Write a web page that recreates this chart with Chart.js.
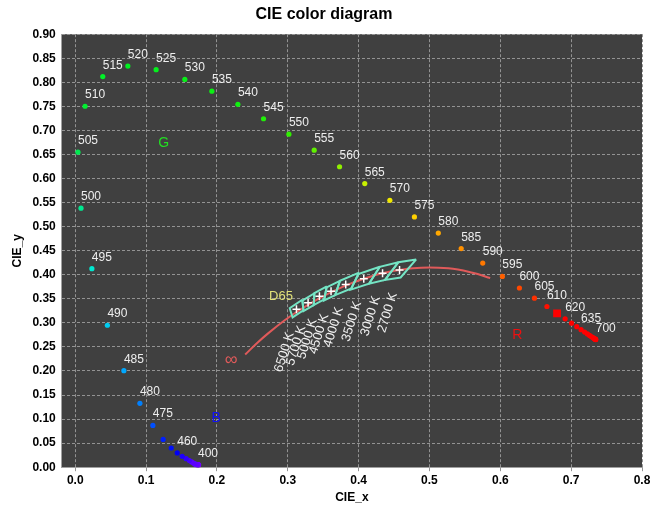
<!DOCTYPE html>
<html>
<head>
<meta charset="utf-8">
<script src="https://cdn.jsdelivr.net/npm/chart.js@4/dist/chart.umd.min.js"></script>
<style>
  html, body { margin: 0; padding: 0; background: #ffffff; }
  canvas { display: block; }
</style>
</head>
<body>
<canvas id="c" width="650" height="505"></canvas>
<script>
// ---------- DATA ----------
const wavelengths = [380,385,390,395,400,405,410,415,420,425,430,435,440,445,450,455,460,465,470,475,480,485,490,495,500,505,510,515,520,525,530,535,540,545,550,555,560,565,570,575,580,585,590,595,600,605,610,615,620,625,630,635,640,645,650,655,660,665,670,675,680,685,690,695,700];
const locusX = [0.1741,0.1740,0.1738,0.1736,0.1733,0.1730,0.1726,0.1721,0.1714,0.1703,0.1689,0.1669,0.1644,0.1611,0.1566,0.1510,0.1440,0.1355,0.1241,0.1096,0.0913,0.0687,0.0454,0.0235,0.0082,0.0039,0.0139,0.0389,0.0743,0.1142,0.1547,0.1929,0.2296,0.2658,0.3016,0.3373,0.3731,0.4087,0.4441,0.4788,0.5125,0.5448,0.5752,0.6029,0.6270,0.6482,0.6658,0.6801,0.6915,0.7006,0.7079,0.7140,0.7190,0.7230,0.7260,0.7283,0.7300,0.7311,0.7320,0.7327,0.7334,0.7340,0.7344,0.7346,0.7347];
const locusY = [0.0050,0.0050,0.0049,0.0049,0.0048,0.0048,0.0048,0.0048,0.0051,0.0058,0.0069,0.0086,0.0109,0.0138,0.0177,0.0227,0.0297,0.0399,0.0578,0.0868,0.1327,0.2007,0.2950,0.4127,0.5384,0.6548,0.7502,0.8120,0.8338,0.8262,0.8059,0.7816,0.7543,0.7243,0.6923,0.6589,0.6245,0.5896,0.5547,0.5202,0.4866,0.4544,0.4242,0.3965,0.3725,0.3514,0.3340,0.3197,0.3083,0.2993,0.2920,0.2859,0.2809,0.2770,0.2740,0.2717,0.2700,0.2689,0.2680,0.2673,0.2666,0.2660,0.2656,0.2654,0.2653];
const labeledWl = [400,460,475,480,485,490,495,500,505,510,515,520,525,530,535,540,545,550,555,560,565,570,575,580,585,590,595,600,605,610,620,635,700];
const highlightWl = 615;

// Planckian locus (from infinity down to ~1500 K)
const planckX = [0.2399,0.2564,0.2718,0.2952,0.3135,0.3451,0.3805,0.4053,0.4369,0.4770,0.5267,0.5609,0.5857];
const planckY = [0.2341,0.2576,0.2776,0.3048,0.3236,0.3516,0.3768,0.3907,0.4041,0.4137,0.4133,0.4043,0.3931];

// ANSI C78.377 quadrangles
const cctLabels = ['6500 K','5700 K','5000 K','4500 K','4000 K','3500 K','3000 K','2700 K'];
const cctCenterX = [0.3123,0.3287,0.3447,0.3611,0.3818,0.4073,0.4338,0.4578];
const cctCenterY = [0.3282,0.3417,0.3553,0.3658,0.3797,0.3917,0.4030,0.4101];
const quadX = [
  [0.3205,0.3028,0.3068,0.3221],
  [0.3376,0.3207,0.3222,0.3366],
  [0.3551,0.3376,0.3366,0.3515],
  [0.3736,0.3548,0.3512,0.3670],
  [0.4006,0.3736,0.3670,0.3898],
  [0.4299,0.3996,0.3889,0.4147],
  [0.4562,0.4299,0.4147,0.4373],
  [0.4813,0.4562,0.4373,0.4593]
];
const quadY = [
  [0.3481,0.3304,0.3113,0.3261],
  [0.3616,0.3462,0.3243,0.3369],
  [0.3760,0.3616,0.3369,0.3487],
  [0.3874,0.3736,0.3465,0.3578],
  [0.4044,0.3874,0.3578,0.3716],
  [0.4165,0.4015,0.3690,0.3814],
  [0.4260,0.4165,0.3814,0.3893],
  [0.4319,0.4260,0.3893,0.3944]
];

// Annotations (text, x, y)
const regionTexts = ['G','B','R'];
const regionX = [0.125,0.199,0.624];
const regionY = [0.674,0.103,0.275];
const d65Text = 'D65', d65X = 0.2905, d65Y = 0.356;
const infText = '\u221E', infX = 0.220, infY = 0.223;

const xTicks = [0,0.1,0.2,0.3,0.4,0.5,0.6,0.7,0.8];
const yTicks = [0,0.05,0.1,0.15,0.2,0.25,0.3,0.35,0.4,0.45,0.5,0.55,0.6,0.65,0.7,0.75,0.8,0.85,0.9];

// ---------- STYLES ----------
const colorStops = [[380,[122,0,255]],[440,[90,0,255]],[455,[30,0,255]],[460,[0,0,245]],[470,[0,32,255]],[475,[0,80,255]],[480,[0,128,255]],[485,[0,168,255]],[490,[0,204,240]],[495,[0,232,208]],[500,[0,232,144]],[505,[0,232,80]],[510,[0,240,48]],[520,[0,240,32]],[540,[16,240,16]],[550,[48,240,0]],[555,[96,240,0]],[560,[144,240,0]],[565,[200,240,0]],[570,[240,232,0]],[575,[255,208,0]],[580,[255,168,0]],[585,[255,144,0]],[590,[255,120,0]],[595,[255,96,0]],[600,[255,72,0]],[605,[255,48,0]],[610,[255,16,0]],[615,[255,0,0]],[700,[255,0,0]]];
function wlColor(w){
  for (let i=0;i<colorStops.length-1;i++){
    const [a,ca]=colorStops[i],[b,cb]=colorStops[i+1];
    if (w>=a && w<=b){
      const t=(w-a)/(b-a);
      const c=ca.map((v,k)=>Math.round(v+(cb[k]-v)*t));
      return 'rgb('+c.join(',')+')';
    }
  }
  return 'rgb(255,0,0)';
}
const FONT = "'Liberation Sans', Arial, sans-serif";

// ---------- DATASETS ----------
const locusPoints = wavelengths.map((w,i)=>({x:locusX[i],y:locusY[i]}));
const datasets = [];
datasets.push({
  type:'scatter', data: locusPoints,
  pointBackgroundColor: wavelengths.map(wlColor),
  pointBorderColor: wavelengths.map(wlColor),
  pointBorderWidth: 0,
  pointRadius: wavelengths.map(w => w===highlightWl ? 5.5 : 2.6),
  pointStyle: wavelengths.map(w => w===highlightWl ? 'rect' : 'circle'),
  showLine:false
});
datasets.push({
  type:'scatter', data: cctCenterX.map((v,i)=>({x:v,y:cctCenterY[i]})),
  pointStyle:'cross', pointRadius:4, pointBorderColor:'#ffffff', pointBorderWidth:1.5, showLine:false
});
quadX.forEach((qx,i)=>{
  const pts = qx.map((v,k)=>({x:v,y:quadY[i][k]}));
  pts.push(pts[0]);
  datasets.push({type:'scatter', data:pts, showLine:true, borderColor:'#74e4c4', borderWidth:2, pointRadius:0, tension:0, fill:false});
});
datasets.push({
  type:'scatter', data: planckX.map((v,i)=>({x:v,y:planckY[i]})),
  showLine:true, borderColor:'#e05a5a', borderWidth:2, pointRadius:0, tension:0.4, fill:false
});

// ---------- PLUGINS ----------
const bgPlugin = {
  id:'plotBg',
  beforeDraw(chart){
    const {ctx, chartArea:a} = chart;
    ctx.save();
    ctx.fillStyle = '#404040';
    ctx.fillRect(a.left, a.top, a.right-a.left, a.bottom-a.top);
    ctx.restore();
  }
};
const textPlugin = {
  id:'texts',
  afterDatasetsDraw(chart){
    const {ctx, scales:{x, y}} = chart;
    ctx.save();
    // wavelength labels
    ctx.font = '12px ' + FONT;
    ctx.fillStyle = '#eeeeee';
    ctx.textAlign = 'left';
    ctx.textBaseline = 'alphabetic';
    labeledWl.forEach(w=>{
      const i = wavelengths.indexOf(w);
      ctx.fillText(String(w), x.getPixelForValue(locusX[i]), y.getPixelForValue(locusY[i]) - 8);
    });
    // region labels
    const regionColors = ['#22dd22','#1010ff','#ee1010'];
    ctx.font = '14px ' + FONT;
    ctx.textAlign = 'center';
    ctx.textBaseline = 'middle';
    regionTexts.forEach((t,i)=>{
      ctx.fillStyle = regionColors[i];
      ctx.fillText(t, x.getPixelForValue(regionX[i]), y.getPixelForValue(regionY[i]));
    });
    ctx.font = '13px ' + FONT;
    ctx.fillStyle = '#e2e27a';
    ctx.fillText(d65Text, x.getPixelForValue(d65X), y.getPixelForValue(d65Y));
    ctx.font = '18px ' + FONT;
    ctx.fillStyle = '#e05a5a';
    ctx.fillText(infText, x.getPixelForValue(infX), y.getPixelForValue(infY));
    // CCT labels (rotated)
    ctx.font = '13px ' + FONT;
    ctx.fillStyle = '#f0f0f0';
    ctx.textAlign = 'right';
    ctx.textBaseline = 'middle';
    cctLabels.forEach((t,i)=>{
      const px = x.getPixelForValue(cctCenterX[i]) - 6;
      const py = y.getPixelForValue(cctCenterY[i]) + 23;
      ctx.save();
      ctx.translate(px, py);
      ctx.rotate(-73*Math.PI/180);
      ctx.fillText(t, 0, 0);
      ctx.restore();
    });
    ctx.restore();
  }
};

// ---------- CHART ----------
new Chart(document.getElementById('c'), {
  type:'scatter',
  data:{ datasets },
  plugins:[bgPlugin, textPlugin],
  options:{
    responsive:false,
    animation:false,
    layout:{ padding:{ left:6, right:8, top:0, bottom:0 } },
    plugins:{
      legend:{display:false},
      tooltip:{enabled:false},
      title:{ display:true, text:'CIE color diagram', color:'#000', font:{family:FONT, size:16, weight:'bold'}, padding:{top:5,bottom:10} }
    },
    scales:{
      x:{
        type:'linear', min:-0.019, max:0.8,
        afterBuildTicks(s){ s.ticks = xTicks.map(v=>({value:v})); },
        afterFit(s){ s.paddingRight = 0; },
        ticks:{ color:'#000', font:{family:FONT, size:12, weight:'bold'}, padding:2, callback:(v)=>Number(v).toFixed(1), maxRotation:0, autoSkip:false },
        grid:{ color:'#939393', lineWidth:1, tickLength:4, tickBorderDash:[], drawTicks:true },
        border:{ display:true, color:'#a0a0a0', dash:[3,2] },
        title:{ display:true, text:'CIE_x', color:'#000', font:{family:FONT, size:12, weight:'bold'}, padding:{top:1,bottom:0} }
      },
      y:{
        type:'linear', min:0, max:0.9,
        afterBuildTicks(s){ s.ticks = yTicks.map(v=>({value:v})); },
        ticks:{ color:'#000', font:{family:FONT, size:12, weight:'bold'}, padding:6, callback:(v)=>Number(v).toFixed(2), autoSkip:false },
        grid:{ color:'#939393', lineWidth:1, drawTicks:false },
        border:{ display:true, color:'#a0a0a0', dash:[3,2] },
        title:{ display:true, text:'CIE_y', color:'#000', font:{family:FONT, size:12, weight:'bold'}, padding:{top:4,bottom:2} }
      }
    }
  }
});
</script>
</body>
</html>
